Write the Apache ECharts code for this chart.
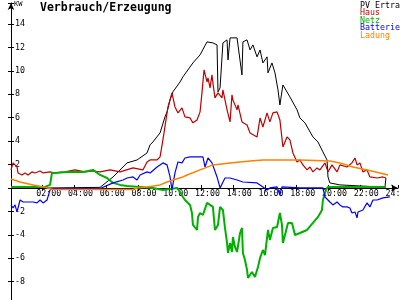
<!DOCTYPE html>
<html>
<head>
<meta charset="utf-8">
<script src="https://cdn.jsdelivr.net/npm/echarts@6/dist/echarts.min.js"></script>
<style>html,body{margin:0;padding:0;background:#fff}#c{width:400px;height:300px}</style>
</head>
<body>
<div id="c"></div>
<script>
var seriesNames = ['PV Ertra', 'Haus', 'Netz', 'Batterie', 'Ladung'];
var seriesColors = ['#000000', '#c00000', '#00b000', '#0000ff', '#ff8000'];

var pvH = [0,2.46,5.61,6.43,7.31,7.94,8.57,8.76,8.94,9.39,9.70,9.83,10.02,10.20,10.65,10.83,11.28,11.46,11.91,12.35,12.72,12.98,13.04,13.17,13.35,13.61,13.67,13.80,13.92,14.24,14.30,14.55,14.61,14.87,15.06,15.24,15.50,15.69,15.87,16.13,16.19,16.44,16.63,16.82,16.94,17.13,17.57,18.02,18.20,18.52,19.02,19.34,19.65,19.91,19.97,20.09,20.72,21.98,23.24,23.56,23.62];
var pvV = [0,0,0.05,0.94,2.14,2.39,2.99,3.68,3.93,4.70,6.07,6.50,7.52,8.21,9.06,9.49,10.34,10.68,11.37,12.48,12.39,12.22,8.21,8.55,12.39,12.65,10.94,12.82,12.91,12.82,12.65,9.66,12.48,12.65,11.79,12.22,11.20,11.79,10.68,11.20,9.83,10.68,9.83,8.38,7.09,8.80,7.78,6.67,5.98,5.56,4.36,3.93,3.08,2.39,0.94,0.43,0.26,0.17,0.09,0.09,0.85];

var hausH = [0,0.13,0.25,0.38,0.44,0.69,0.88,1.07,1.32,1.51,1.83,2.02,2.46,2.77,3.40,4.03,4.66,5.17,5.61,6.24,6.87,7.69,8.31,8.57,8.76,9.20,9.39,9.57,9.89,10.14,10.33,10.52,10.77,10.96,11.28,11.46,11.72,11.91,12.03,12.16,12.35,12.41,12.54,12.66,12.72,12.85,13.04,13.29,13.35,13.61,13.80,13.92,13.98,14.24,14.30,14.55,14.87,15.06,15.50,15.69,15.87,16.13,16.31,16.50,16.76,16.94,17.13,17.39,17.57,17.76,18.02,18.20,18.39,18.65,18.83,19.02,19.28,19.46,19.78,19.97,20.22,20.54,20.72,21.17,21.48,21.67,21.80,21.98,22.17,22.43,22.61,23.06,23.43,23.62];
var hausV = [1.54,2.14,2.22,1.79,1.28,1.11,1.28,1.11,1.37,1.28,1.45,1.28,1.37,1.28,1.37,1.54,1.37,1.45,1.37,1.54,1.37,1.71,1.54,2.22,2.39,2.39,2.65,4.10,6.92,8.12,6.92,6.41,6.84,6.07,5.98,5.56,5.81,6.50,8.12,10.09,9.06,9.40,8.55,9.66,8.97,7.69,8.12,7.69,8.38,6.67,5.64,7.95,7.52,6.67,7.09,5.64,5.38,4.70,4.36,5.98,5.21,6.41,5.64,6.41,6.50,5.81,3.50,4.36,4.10,2.99,2.22,2.39,1.97,1.54,1.79,1.37,1.71,1.54,2.14,1.37,1.97,1.37,1.97,1.79,2.14,2.56,1.97,2.14,1.37,1.54,0.94,0.85,0.94,0.85];

var netzH = [0,2.14,2.46,2.58,2.77,3.53,4.54,5.17,5.61,6.05,6.43,6.87,7.31,8.13,8.94,9.57,10.02,10.46,10.65,10.83,10.96,11.28,11.40,11.46,11.72,11.78,11.91,12.09,12.35,12.54,12.72,12.85,13.04,13.17,13.35,13.48,13.61,13.67,13.80,13.92,13.98,14.11,14.24,14.43,14.55,14.61,14.74,14.87,14.93,15.18,15.37,15.56,15.69,15.87,16.00,16.19,16.31,16.50,16.76,16.94,17.07,17.13,17.26,17.45,17.70,17.89,18.20,18.65,19.02,19.34,19.59,19.65,19.84,19.97,23.62];
var netzV = [0.09,0.09,0.26,1.28,1.28,1.37,1.37,1.54,1.11,0.85,0.43,0.26,0.17,0.09,0,-0.17,-0.09,0,-0.34,-0.77,-1.03,-1.45,-2.14,-3.16,-3.59,-2.48,-2.14,-2.31,-1.28,-1.45,-1.62,-3.59,-3.16,-1.62,-1.88,-3.42,-4.70,-5.56,-4.70,-5.47,-4.19,-5.04,-5.47,-3.85,-3.42,-5.56,-6.15,-7.01,-7.69,-7.18,-7.61,-6.75,-5.98,-5.30,-5.73,-3.59,-4.44,-3.42,-3.33,-2.14,-3.16,-4.70,-4.02,-2.99,-2.99,-4.02,-3.85,-3.59,-2.99,-2.48,-1.88,-1.03,-0.17,0.09,0.09];

var battH = [0,0.13,0.25,0.38,0.44,0.57,0.76,1.39,1.64,1.83,2.02,2.27,2.46,2.65,5.61,6.43,7.06,7.31,7.69,7.94,8.13,8.57,8.76,9.20,9.57,9.83,10.02,10.14,10.20,10.33,10.52,10.77,10.96,11.28,12.09,12.22,12.41,12.66,12.98,13.17,13.29,13.48,13.80,14.24,14.61,15.50,15.87,16.13,16.31,16.76,16.94,17.07,18.20,19.65,19.78,20.09,20.28,20.54,20.72,20.91,21.17,21.35,21.48,21.67,21.80,21.86,22.17,22.43,22.61,22.80,23.06,23.43,23.87];
var battV = [-1.45,-1.71,-1.45,-2.05,-1.88,-1.03,-1.20,-1.20,-1.28,-1.03,-1.28,-1.03,-0.17,-0.05,-0.05,0.43,0.68,0.85,0.94,0.68,1.11,1.37,1.28,1.79,2.14,1.97,0.94,-0.17,0,1.28,2.22,2.14,2.56,2.65,2.65,1.79,2.56,2.14,0.94,0,-0.17,0.85,0.85,0.68,0.51,0.43,0.09,-0.17,0,0.09,-0.60,0.09,0,0,-0.77,-1.20,-1.45,-1.20,-1.45,-1.62,-1.62,-1.71,-2.14,-2.05,-2.56,-2.05,-1.88,-1.28,-1.62,-1.03,-1.03,-0.85,-0.77];

var ladH = [0,0.57,1.39,2.02,2.65,7.69,7.94,8.57,9.39,9.83,10.20,10.83,11.09,11.91,12.72,13.80,15.06,15.87,18.20,20.09,20.72,21.54,22.43,23.24,23.75];
var ladV = [0.77,0.51,0.26,0.09,-0.13,-0.13,0,0.09,0.26,0.51,0.68,0.94,1.11,1.54,1.97,2.14,2.31,2.39,2.39,2.31,2.14,1.79,1.54,1.28,1.11];

var xTickHours = [0,2,4,6,8,10,12,14,16,18,20,22,24];
var yTickValues = [-8,-6,-4,-2,2,4,6,8,10,12,14];

function zip(h, v) { return h.map(function (x, i) { return [x, v[i]]; }); }
var allData = [zip(pvH, pvV), zip(hausH, hausV), zip(netzH, netzV), zip(battH, battV), zip(ladH, ladV)];
var widths = [1, 1.2, 2, 1.2, 1.5];

var chart = echarts.init(document.getElementById('c'), null, {renderer: 'canvas'});
var mono = 'DejaVu Sans Mono';
function xFmt(v) { if (xTickHours.indexOf(v) < 1) return ''; return (v < 10 ? '0' : '') + v + ':00'; }
function yFmt(v) { return yTickValues.indexOf(v) >= 0 ? String(v) : ''; }

var yMin = -10, yMax = 15.8, gridTop = 3, gridBottom = -5, H = 300;
var plotH = H - gridTop - gridBottom;
var zeroY = gridTop + (yMax / (yMax - yMin)) * plotH;
var xOffset = -((H - gridBottom) - zeroY);

var axisCommonX = {type: 'value', min: 0, max: 24.38, interval: 2, position: 'bottom'};
var axisCommonY = {type: 'value', min: yMin, max: yMax, interval: 2, position: 'left'};

var graphics = [
  {type: 'text', left: 40, top: 2, style: {text: 'Verbrauch/Erzeugung', font: 'bold 11.5px ' + mono, fill: '#000'}},
  {type: 'text', left: 14, top: 1, style: {text: 'KW', font: '7px ' + mono, fill: '#000'}}
];
seriesNames.forEach(function (n, i) {
  graphics.push({type: 'text', left: 360, top: 1.5 + i * 7.5, style: {text: n, font: '8.3px ' + mono, fill: seriesColors[i]}});
});

chart.setOption({
  animation: false,
  backgroundColor: '#fff',
  grid: {left: 11, right: 2, top: gridTop, bottom: gridBottom, containLabel: false, outerBoundsMode: 'none'},
  graphic: graphics,
  xAxis: [
    Object.assign({}, axisCommonX, {
      offset: xOffset,
      axisLine: {onZero: false, lineStyle: {color: '#000', width: 1}, symbol: ['none', 'arrow'], symbolSize: [5, 7]},
      axisTick: {show: true, inside: false, length: 3, lineStyle: {color: '#000'}},
      axisLabel: {show: true, formatter: xFmt, color: '#000', fontFamily: mono, fontSize: 8.3, margin: 2, padding: [0, 0, 0, 12], showMaxLabel: false},
      splitLine: {show: false}
    }),
    Object.assign({}, axisCommonX, {
      offset: xOffset,
      axisLine: {show: false, onZero: false},
      axisTick: {show: true, inside: true, length: 3, lineStyle: {color: '#000'}},
      axisLabel: {show: false},
      splitLine: {show: false}
    })
  ],
  yAxis: [
    Object.assign({}, axisCommonY, {
      axisLine: {show: true, onZero: false, lineStyle: {color: '#000', width: 1}, symbol: ['none', 'arrow'], symbolSize: [5, 7]},
      axisTick: {show: true, inside: false, length: 3, lineStyle: {color: '#000'}},
      axisLabel: {show: true, inside: true, formatter: yFmt, color: '#000', fontFamily: mono, fontSize: 8.3, margin: 4},
      splitLine: {show: false}
    }),
    Object.assign({}, axisCommonY, {
      axisLine: {show: false, onZero: false},
      axisTick: {show: true, inside: true, length: 3, lineStyle: {color: '#000'}},
      axisLabel: {show: false},
      splitLine: {show: false}
    })
  ],
  series: seriesNames.map(function (n, i) {
    return {
      name: n, type: 'line', data: allData[i], showSymbol: false, symbol: 'none',
      xAxisIndex: 0, yAxisIndex: 0,
      lineStyle: {color: seriesColors[i], width: widths[i]},
      itemStyle: {color: seriesColors[i]}, z: 2 + i
    };
  })
});
</script>
</body>
</html>
